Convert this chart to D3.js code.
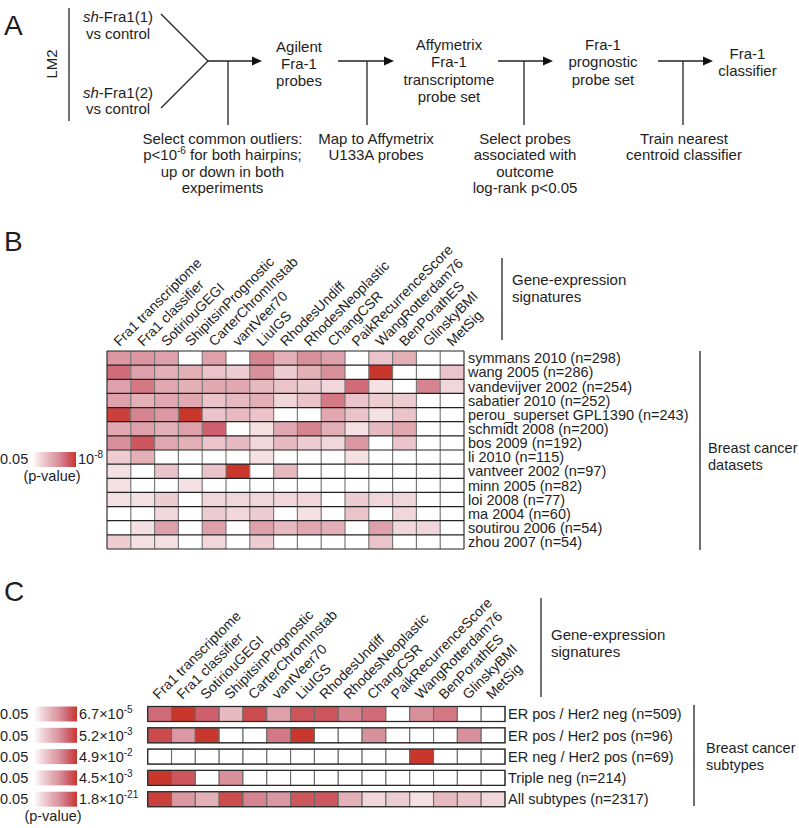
<!DOCTYPE html>
<html><head><meta charset="utf-8">
<script src="https://cdn.jsdelivr.net/npm/d3@7"></script>
<style>
body{margin:0;background:#fff}
text{font-family:"Liberation Sans",Arial,Helvetica,sans-serif;fill:#1e1e1e}
</style>
</head><body>
<svg id="chart" width="799" height="828"></svg>
<script>
// ---------------- DATA ----------------
const signatures = ["Fra1 transcriptome","Fra1 classifier","SotiriouGEGI","ShipitsinPrognostic","CarterChromInstab","vantVeer70","LiuIGS","RhodesUndiff","RhodesNeoplastic","ChangCSR","PaikRecurrenceScore","WangRotterdam76","BenPorathES","GlinskyBMI","MetSig"];
const datasets = ["symmans 2010 (n=298)","wang 2005 (n=286)","vandevijver 2002 (n=254)","sabatier 2010 (n=252)","perou_superset GPL1390 (n=243)","schmidt 2008 (n=200)","bos 2009 (n=192)","li 2010 (n=115)","vantveer 2002 (n=97)","minn 2005 (n=82)","loi 2008 (n=77)","ma 2004 (n=60)","soutirou 2006 (n=54)","zhou 2007 (n=54)"];
// significance intensity (0 = not significant, 1 = strongest), one array per dataset
const symmans2010   = [0.55,0.55,0.5,0,0.5,0,0.65,0.4,0.6,0.5,0,0.3,0.4,0,0];
const wang2005      = [0.75,0.5,0.4,0.4,0.3,0.25,0.6,0.25,0.4,0.6,0,1.0,0,0,0.3];
const vandevijver   = [0.5,0.7,0.45,0.4,0.45,0.45,0.35,0.3,0.25,0.2,0.75,0.15,0,0.65,0.2];
const sabatier2010  = [0.5,0.4,0.45,0.45,0.3,0.35,0.4,0.2,0.3,0.7,0.3,0.25,0.25,0,0];
const perou         = [0.95,0.65,0.55,1.0,0.3,0.35,0.3,0,0,0.45,0.3,0.15,0.3,0,0];
const schmidt2008   = [0.45,0.5,0.4,0.5,0.8,0,0.15,0.45,0.65,0.4,0.15,0.35,0.45,0,0];
const bos2009       = [0.6,0.85,0.45,0.4,0.3,0.35,0.2,0.35,0.25,0.2,0.55,0,0.3,0,0];
const li2010        = [0.25,0.4,0,0,0,0,0.15,0,0,0,0.15,0,0,0,0];
const vantveer2002  = [0.15,0,0.3,0,0.3,1.0,0,0.35,0,0,0,0,0,0,0];
const minn2005      = [0.15,0,0,0.15,0,0,0,0,0,0,0,0,0,0,0];
const loi2008       = [0.15,0.15,0.25,0,0.2,0.2,0.2,0.2,0.2,0,0.25,0.2,0.2,0,0];
const ma2004        = [0,0,0.2,0,0.25,0.2,0.25,0,0.15,0,0.3,0,0.2,0,0];
const soutirou2006  = [0,0.15,0.5,0,0.5,0,0.5,0.35,0.45,0.4,0,0.5,0.2,0.2,0];
const zhou2007      = [0.25,0.15,0.15,0,0.2,0,0.25,0,0,0,0,0.3,0,0,0];
const datasetValues = [symmans2010,wang2005,vandevijver,sabatier2010,perou,schmidt2008,bos2009,li2010,vantveer2002,minn2005,loi2008,ma2004,soutirou2006,zhou2007];

const subtypes = ["ER pos / Her2 neg (n=509)","ER pos / Her2 pos (n=96)","ER neg / Her2 pos (n=69)","Triple neg (n=214)","All subtypes (n=2317)"];
const erPosHer2Neg = [0.75,1.0,0.8,0.35,0.9,0.5,0.85,0.85,0.65,0.75,0,0.6,0.7,0,0];
const erPosHer2Pos = [0.9,0.55,1.0,0,0,0.7,1.0,0,0,0.6,0,0,0,0.6,0];
const erNegHer2Pos = [0,0,0,0,0,0,0,0,0,0,0,1.0,0,0,0];
const tripleNeg    = [1.0,0.85,0,0.6,0,0,0,0,0,0,0,0,0,0,0];
const allSubtypes  = [0.95,0.55,0.4,0.9,0.65,0.55,0.85,0.85,0.4,0.2,0.25,0.15,0.35,0.3,0.2];
const subtypeValues = [erPosHer2Neg,erPosHer2Pos,erNegHer2Pos,tripleNeg,allSubtypes];
const subtypeMaxMantissa = ["6.7","5.2","4.9","4.5","1.8"];
const subtypeMaxExponent = ["-5","-3","-2","-3","-21"];
const legendMin = "0.05";

// ---------------- DRAWING ----------------
const svg = d3.select("#chart");
const color = d3.scaleLinear()
  .domain([0,0.2,0.4,0.6,0.8,1])
  .range(["#ffffff","#f1d6db","#e4b0b8","#d8909b","#cf5f6c","#c8362c"])
  .interpolate(d3.interpolateRgb);

const defs = svg.append("defs");
const grad = defs.append("linearGradient").attr("id","pgrad").attr("x1","0").attr("x2","1").attr("y1","0").attr("y2","0");
d3.range(0,1.0001,0.1).forEach(t=>grad.append("stop").attr("offset",t).attr("stop-color",color(t)));

function txt(g,x,y,s,opts={}){
  const t=g.append("text").attr("x",x).attr("y",y).text(s)
    .style("font-size",(opts.size||15)+"px");
  if(opts.anchor) t.attr("text-anchor",opts.anchor);
  return t;
}
function supText(g,x,y,base,sup,opts={}){
  const t=g.append("text").attr("x",x).attr("y",y).style("font-size",(opts.size||14.5)+"px");
  if(opts.anchor) t.attr("text-anchor",opts.anchor);
  t.append("tspan").text(base);
  t.append("tspan").attr("dy",-6).style("font-size","10px").text(sup);
  return t;
}

// ---------- Panel A ----------
const A = svg.append("g");
txt(A,4,35,"A",{size:28});
A.append("text").attr("transform","translate(56.5,64) rotate(-90)").attr("text-anchor","middle").style("font-size","15px").text("LM2");
const lineStyle = sel => sel.attr("stroke","#222").attr("stroke-width",1.3).attr("fill","none");
A.append("line").attr("x1",69).attr("x2",69).attr("y1",8).attr("y2",121).call(lineStyle);

function shLabel(x,y,n){
  const t=A.append("text").attr("x",x).attr("y",y).attr("text-anchor","middle").style("font-size","15px");
  t.append("tspan").style("font-style","italic").text("sh");
  t.append("tspan").text("-Fra1("+n+")");
}
shLabel(118,22,1); txt(A,118,38.5,"vs control",{anchor:"middle"});
shLabel(118,97.5,2); txt(A,118,113.5,"vs control",{anchor:"middle"});
A.append("polyline").attr("points","161,14 208,61 161,108").call(lineStyle);

const arrowY = 61;
const arrows = [[208,262,228],[338,394,367],[498,553,524],[658,713,683]];
arrows.forEach(([x1,x2,xv])=>{
  A.append("line").attr("x1",x1).attr("x2",x2-8).attr("y1",arrowY).attr("y2",arrowY).call(lineStyle);
  A.append("path").attr("d",`M${x2},${arrowY} L${x2-10},${arrowY-4.5} L${x2-10},${arrowY+4.5} Z`).attr("fill","#111");
  A.append("line").attr("x1",xv).attr("x2",xv).attr("y1",arrowY).attr("y2",125).call(lineStyle);
});
const LH = 17.3;
function block(cx,y0,lines,lh){ lines.forEach((s,i)=>txt(A,cx,y0+i*lh,s,{anchor:"middle"})); }
block(299,51.5,["Agilent","Fra-1","probes"],LH);
block(449,50,["Affymetrix","Fra-1","transcriptome","probe set"],LH);
block(603,50,["Fra-1","prognostic","probe set"],LH);
block(747.5,59,["Fra-1","classifier"],LH);
const LB = 16.5;
txt(A,222.5,143.5,"Select common outliers:",{anchor:"middle"});
{ const t=A.append("text").attr("x",222.5).attr("y",143.5+LB).attr("text-anchor","middle").style("font-size","15px");
  t.append("tspan").text("p<10"); t.append("tspan").attr("dy",-6).style("font-size","10px").text("-6");
  t.append("tspan").attr("dy",6).text(" for both hairpins;"); }
txt(A,222.5,143.5+2*LB,"up or down in both",{anchor:"middle"});
txt(A,222.5,143.5+3*LB,"experiments",{anchor:"middle"});
block(376,143.5,["Map to Affymetrix","U133A probes"],LB);
block(525,143.5,["Select probes","associated with","outcome","log-rank p<0.05"],LB);
block(684,143.5,["Train nearest","centroid classifier"],LB);

// ---------- Panel B ----------
const B = svg.append("g");
txt(B,4,251,"B",{size:28});
const xB = d3.scaleBand().domain(signatures).range([107,464]);
const yB = d3.scaleBand().domain(datasets).range([351,549]);
const cellsB = [];
datasets.forEach((ds,i)=>signatures.forEach((sg,j)=>cellsB.push({ds,sg,v:datasetValues[i][j]})));
B.selectAll("rect.cell").data(cellsB).join("rect").attr("class","cell")
  .attr("x",d=>xB(d.sg)).attr("y",d=>yB(d.ds)).attr("width",xB.bandwidth()).attr("height",yB.bandwidth())
  .attr("fill",d=>color(d.v));
const colEdge = i => i<signatures.length ? xB(signatures[i]) : xB.range()[1];
const rowEdge = i => i<datasets.length ? yB(datasets[i]) : yB.range()[1];
B.selectAll("line.v").data(d3.range(signatures.length+1)).join("line").attr("class","v")
  .attr("x1",colEdge).attr("x2",colEdge)
  .attr("y1",yB.range()[0]).attr("y2",yB.range()[1])
  .attr("stroke",i=>(i===0||i===signatures.length)?"#333":"#7a7a7a").attr("stroke-width",1.2);
B.selectAll("line.h").data(d3.range(datasets.length+1)).join("line").attr("class","h")
  .attr("y1",rowEdge).attr("y2",rowEdge)
  .attr("x1",xB.range()[0]).attr("x2",xB.range()[1]).attr("stroke","#222").attr("stroke-width",1.2);
B.selectAll("text.col").data(signatures).join("text").attr("class","col")
  .attr("transform",d=>`translate(${xB(d)+xB.bandwidth()/2+0.5},347) rotate(-45)`)
  .style("font-size","14px").text(d=>d);
B.selectAll("text.row").data(datasets).join("text").attr("class","row")
  .attr("x",468).attr("y",d=>yB(d)+yB.bandwidth()/2).attr("dy","0.36em")
  .style("font-size","14.5px").text(d=>d);
B.append("line").attr("x1",502).attr("x2",502).attr("y1",258).attr("y2",340).attr("stroke","#222").attr("stroke-width",1.3);
txt(B,512,284.5,"Gene-expression"); txt(B,512,301.5,"signatures");
B.append("line").attr("x1",700).attr("x2",700).attr("y1",351).attr("y2",550).attr("stroke","#222").attr("stroke-width",1.3);
txt(B,708,453,"Breast cancer",{size:14.5}); txt(B,708,470,"datasets",{size:14.5});
B.append("rect").attr("x",32).attr("y",452).attr("width",44).attr("height",15).attr("fill","url(#pgrad)");
txt(B,0,464,legendMin,{size:14.5});
supText(B,78,464,"10","-8");
txt(B,52,481,"(p-value)",{anchor:"middle",size:14.5});

// ---------- Panel C ----------
const C = svg.append("g");
txt(C,4,601,"C",{size:28});
const xC = d3.scaleBand().domain(signatures).range([147.7,505]);
const yC = d3.scaleBand().domain(subtypes).range([706.5,806.7]).paddingInner(0.296);
const cellsC = [];
subtypes.forEach((st,i)=>signatures.forEach((sg,j)=>cellsC.push({st,sg,v:subtypeValues[i][j]})));
C.selectAll("rect.cell").data(cellsC).join("rect").attr("class","cell")
  .attr("x",d=>xC(d.sg)).attr("y",d=>yC(d.st)).attr("width",xC.bandwidth()).attr("height",yC.bandwidth())
  .attr("fill",d=>color(d.v)).attr("stroke","#6a6a6a").attr("stroke-width",1.1);
C.selectAll("rect.rowframe").data(subtypes).join("rect").attr("class","rowframe")
  .attr("x",xC.range()[0]).attr("y",d=>yC(d)).attr("width",xC.range()[1]-xC.range()[0]).attr("height",yC.bandwidth())
  .attr("fill","none").attr("stroke","#2a2a2a").attr("stroke-width",1.2);
C.selectAll("text.col").data(signatures).join("text").attr("class","col")
  .attr("transform",d=>`translate(${xC(d)+xC.bandwidth()/2-1},700) rotate(-45)`)
  .style("font-size","14px").text(d=>d);
C.selectAll("text.row").data(subtypes).join("text").attr("class","row")
  .attr("x",508).attr("y",d=>yC(d)+yC.bandwidth()/2).attr("dy","0.36em")
  .style("font-size","14.5px").text(d=>d);
C.append("line").attr("x1",541).attr("x2",541).attr("y1",598).attr("y2",697).attr("stroke","#222").attr("stroke-width",1.3);
txt(C,551,640,"Gene-expression"); txt(C,551,657,"signatures");
C.append("line").attr("x1",694).attr("x2",694).attr("y1",705).attr("y2",806).attr("stroke","#222").attr("stroke-width",1.3);
txt(C,706,753,"Breast cancer",{size:14.5}); txt(C,706,770,"subtypes",{size:14.5});
subtypes.forEach((st,i)=>{
  const cy = yC(st)+yC.bandwidth()/2;
  C.append("rect").attr("x",33.5).attr("y",yC(st)).attr("width",43.5).attr("height",yC.bandwidth()).attr("fill","url(#pgrad)");
  C.append("text").attr("x",0).attr("y",cy).attr("dy","0.36em").style("font-size","14.5px").text(legendMin);
  const t=C.append("text").attr("x",79).attr("y",cy).attr("dy","0.36em").style("font-size","14.5px");
  t.append("tspan").text(subtypeMaxMantissa[i]+"\u00d710");
  t.append("tspan").attr("dy",-6).style("font-size","10px").text(subtypeMaxExponent[i]);
});
txt(C,53,821,"(p-value)",{anchor:"middle",size:14.5});
</script>
</body></html>
